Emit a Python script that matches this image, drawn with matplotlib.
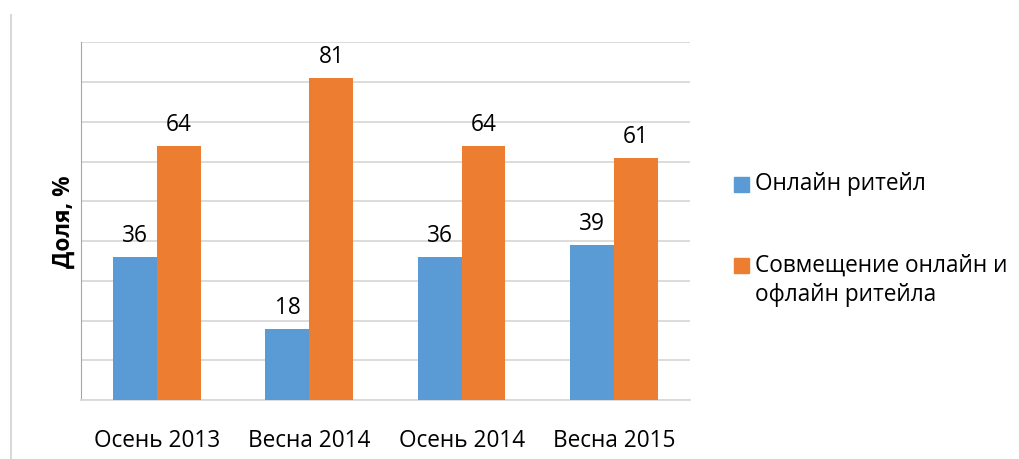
import numpy as np
import matplotlib.pyplot as plt
from matplotlib.lines import Line2D
from matplotlib.patches import Rectangle

plt.rcParams['font.family'] = ['Open Sans', 'DejaVu Sans']

# данные
periods = ["Осень 2013", "Весна 2014", "Осень 2014", "Весна 2015"]
online = [36, 18, 36, 39]
combined = [64, 81, 64, 61]
series_names = ["Онлайн ритейл", "Совмещение онлайн и\nофлайн ритейла"]
colors = ["#5B9BD5", "#ED7D31"]

fs = 16.3
W, H = 1020, 460

fig = plt.figure(figsize=(10.2, 4.6), dpi=100)
ax = fig.add_axes([0.0794, 0.128, 0.597, 0.778])

x = np.arange(len(periods))
w = 0.288
b1 = ax.bar(x - w / 2, online, w, color=colors[0], zorder=3)
b2 = ax.bar(x + w / 2, combined, w, color=colors[1], zorder=3)

for bars in (b1, b2):
    for r in bars:
        ax.annotate(f"{r.get_height():.0f}", (r.get_x() + r.get_width() / 2, r.get_height()),
                    xytext=(0, 7), textcoords="offset points", ha="center", va="bottom",
                    fontsize=fs, color="#000000")

ax.set_xlim(-0.5, len(periods) - 0.5)
ax.set_ylim(0, 90)
ax.set_yticks(np.arange(0, 91, 10))
ax.set_yticklabels([])
ax.tick_params(axis="y", length=0)
ax.tick_params(axis="x", length=0, labelsize=fs, pad=20)
ax.set_xticks(x)
ax.set_xticklabels(periods)
ax.grid(axis="y", color="#d9d9d9", linewidth=1.3, zorder=0)

for s in ("top", "right"):
    ax.spines[s].set_visible(False)
ax.spines["left"].set_color("#a6a6a6")
ax.spines["bottom"].set_color("#d9d9d9")
ax.spines["bottom"].set_linewidth(1.3)

ax.set_ylabel("Доля, %", fontsize=fs, fontweight="bold", labelpad=0)

# легенда: квадрат выровнен по первой строке подписи
leg_y = [185.5, 266.5]
for c, name, yy in zip(colors, series_names, leg_y):
    fig.add_artist(Rectangle((734 / W, 1 - (yy + 7.5) / H), 15 / W, 15 / H,
                             transform=fig.transFigure, color=c))
    fig.text(755 / W, 1 - (yy - 13) / H, name, fontsize=fs, ha="left", va="top",
             linespacing=1.3)

# вертикальная линия слева (край страницы)
fig.add_artist(Line2D([0.0108, 0.0108], [0.0, 0.965], color="#d9d9d9", linewidth=1.5))

fig.savefig("out.png", dpi=100)
